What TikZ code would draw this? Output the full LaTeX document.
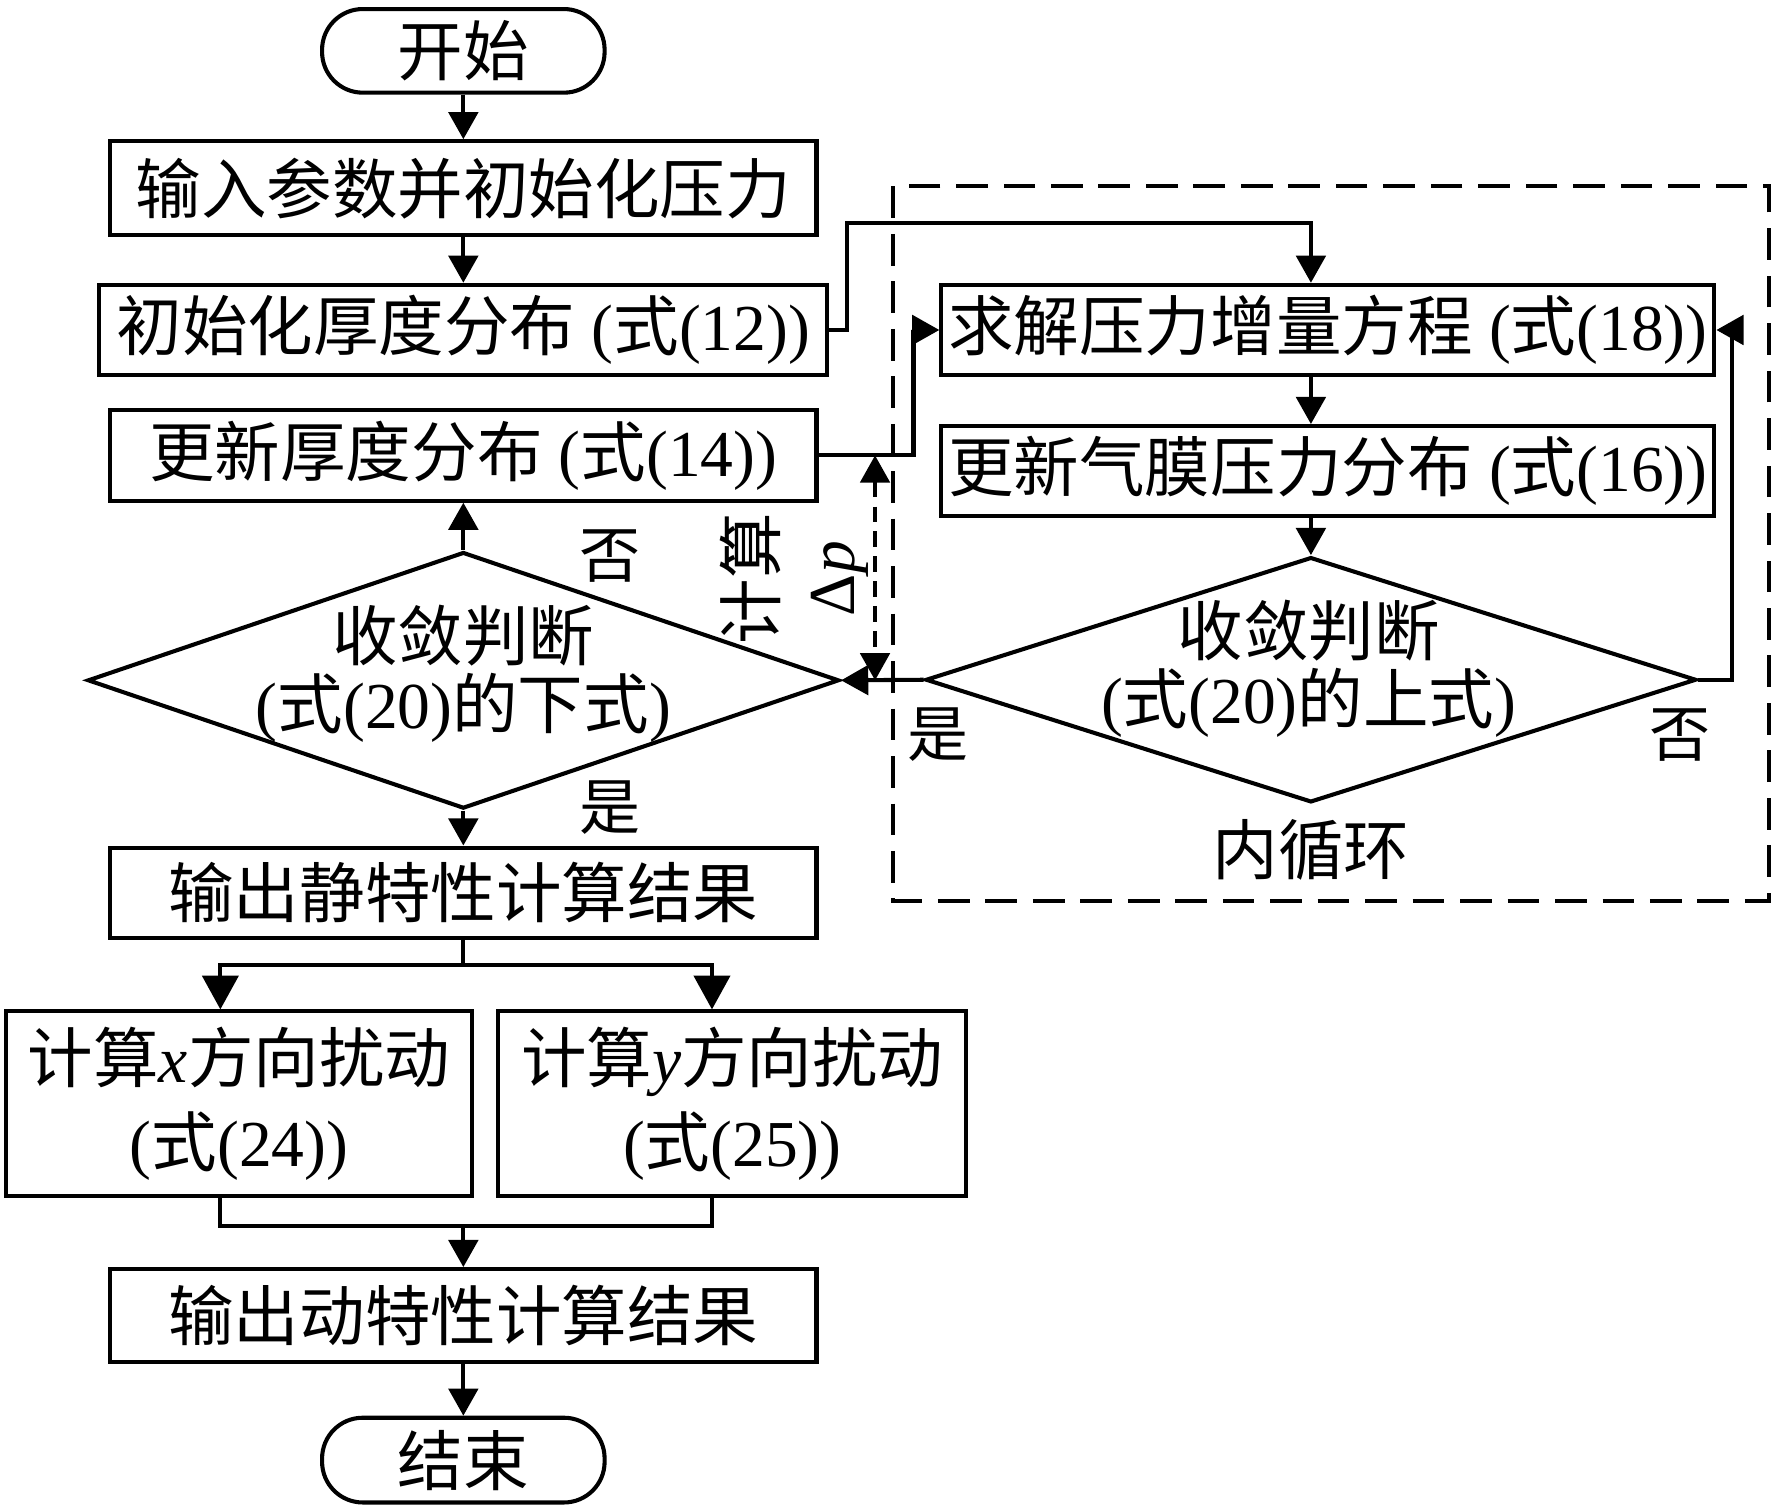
\documentclass[tikz,border=0pt]{standalone}
\usepackage{fontspec}
\setmainfont{Liberation Serif}
\newfontfamily\cjk{Noto Sans CJK SC}
\newcommand\zh[1]{{\cjk #1}}
\usetikzlibrary{shapes.geometric,arrows.meta}
\begin{document}
\begin{tikzpicture}[x=0.5pt,y=-0.5pt,
  box/.style={draw,line width=1.8pt,inner sep=0pt,font=\fontsize{29}{37}\selectfont,align=center},
  term/.style={box,rounded corners=18pt},
  dia/.style={draw,diamond,line width=1.8pt,inner sep=0pt},
  txt/.style={font=\fontsize{29}{30}\selectfont,align=center,inner sep=0pt},
  lbl/.style={font=\fontsize{27}{30}\selectfont,inner sep=0pt},
  line/.style={line width=1.8pt},
  arr/.style={line,-{Triangle[length=12pt,width=13pt]}},
  bigarr/.style={line,-{Triangle[length=15pt,width=16pt]}},
  dasharr/.style={line width=1.6pt,dash pattern=on 7pt off 4pt,{Triangle[length=12pt,width=13pt]}-{Triangle[length=12pt,width=13pt]}},
  loopbox/.style={line width=1.8pt,dash pattern=on 14pt off 7pt}
]
\useasboundingbox (0,0) rectangle (1568,1332);

% inner loop frame
\draw[loopbox] (790,165) rectangle (1565,797);

% left column
\node[term,minimum width=125pt,minimum height=37pt] (start) at (410,45) {\zh{开始}};
\node[box,minimum width=312.5pt,minimum height=41.5pt] (b1) at (410,166.5) {\zh{输入参数并初始化压力}};
\node[box,minimum width=322pt,minimum height=40pt] (b2) at (410,292) {\zh{初始化厚度分布} (\zh{式}(12))};
\node[box,minimum width=312.5pt,minimum height=40pt] (b3) at (410,403) {\zh{更新厚度分布} (\zh{式}(14))};
\node[dia,minimum width=332.5pt,minimum height=113.5pt] (d1) at (410,602) {};
\node[txt] (d1t) at (410,596) {\zh{收敛判断}\\(\zh{式}(20)\zh{的下式})};
\node[box,minimum width=312.5pt,minimum height=40pt] (b4) at (410,790) {\zh{输出静特性计算结果}};
\node[box,minimum width=206.5pt,minimum height=81.5pt] (b5) at (211.5,976.5) {\zh{计算}\textit{x}\zh{方向扰动}\\(\zh{式}(24))};
\node[box,minimum width=207pt,minimum height=81.5pt] (b6) at (648,976.5) {\zh{计算}\textit{y}\zh{方向扰动}\\(\zh{式}(25))};
\node[box,minimum width=312.5pt,minimum height=41pt] (b7) at (410,1164) {\zh{输出动特性计算结果}};
\node[term,minimum width=125pt,minimum height=37.5pt] (end) at (410,1292) {\zh{结束}};

% right column
\node[box,minimum width=342pt,minimum height=40pt] (r1) at (1175,292) {\zh{求解压力增量方程} (\zh{式}(18))};
\node[box,minimum width=342pt,minimum height=40pt] (r2) at (1175,417) {\zh{更新气膜压力分布} (\zh{式}(16))};
\node[dia,minimum width=341pt,minimum height=108.5pt] (d2) at (1160,601.5) {};
\node[txt] (d2t) at (1158,592) {\zh{收敛判断}\\(\zh{式}(20)\zh{的上式})};

% labels
\node[lbl] (no1) at (540,492) {\zh{否}};
\node[lbl] (yes1) at (540,715) {\zh{是}};
\node[lbl] (yes2) at (830,650) {\zh{是}};
\node[lbl] (no2) at (1487,650) {\zh{否}};
\node[txt] (inner) at (1160,752) {\zh{内循环}};
\node[font=\fontsize{29}{35}\selectfont,align=center,inner sep=0pt,rotate=90] (dp) at (703,512) {\zh{计算}\\Δ\textit{p}};

% left connectors
\draw[arr] (start) -- (b1);
\draw[arr] (b1) -- (b2);
\draw[arr] (d1.north) -- (b3.south);
\draw[arr] (d1.south) -- (b4.north);
\draw[line] (b4.south) -- ++(0,22) coordinate (sp);
\draw[bigarr] (sp) -| ([xshift=-8.25pt]b5.north);
\draw[bigarr] (sp) -| ([xshift=-9pt]b6.north);
\coordinate (mg) at (410,1085);
\draw[line] ([xshift=-8.25pt]b5.south) |- (mg) -| ([xshift=-9pt]b6.south);
\draw[arr] (mg) -- (b7.north);
\draw[arr] (b7) -- (end);

% right connectors
\coordinate (tp) at (1160,197);
\draw[arr] (b2.east) -- ++(16,0) |- (tp) -- (tp |- r1.north);
\draw[arr] (b3.east) -- ++(84,0) |- (r1.west);
\draw[arr] (r1.south -| tp) -- (r2.north -| tp);
\draw[arr] (r2.south -| tp) -- (d2.north);
\draw[arr] (d2.east) -- ++(30,0) |- (r1.east);
\draw[arr] (d2.west) -- (d1.east);
\coordinate (dpa) at ([xshift=25pt]b3.east);
\coordinate (dpb) at (dpa |- d1.east);
\draw[dasharr] (dpa) -- (dpb);
\end{tikzpicture}
\end{document}
